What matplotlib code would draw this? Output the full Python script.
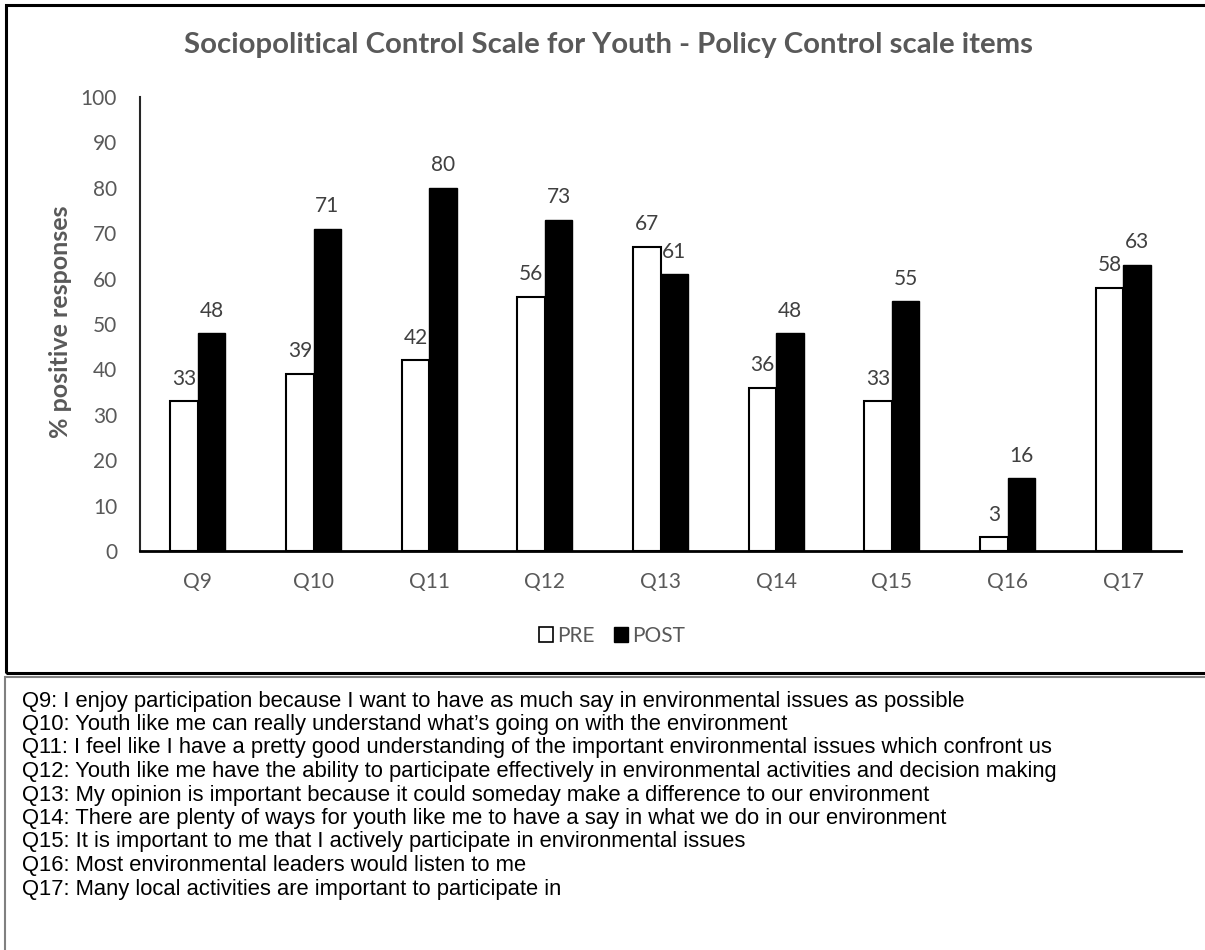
import matplotlib
matplotlib.use("Agg")
import matplotlib.pyplot as plt
from matplotlib.patches import Rectangle, Patch
import numpy as np

categories = ["Q9", "Q10", "Q11", "Q12", "Q13", "Q14", "Q15", "Q16", "Q17"]
pre_values = [33, 39, 42, 56, 67, 36, 33, 3, 58]
post_values = [48, 71, 80, 73, 61, 48, 55, 16, 63]
y_ticks = [0, 10, 20, 30, 40, 50, 60, 70, 80, 90, 100]
title = "Sociopolitical Control Scale for Youth - Policy Control scale items"
y_label = "% positive responses"
series_names = ["PRE", "POST"]
notes = [
    "Q9: I enjoy participation because I want to have as much say in environmental issues as possible",
    "Q10: Youth like me can really understand what\u2019s going on with the environment",
    "Q11: I feel like I have a pretty good understanding of the important environmental issues which confront us",
    "Q12: Youth like me have the ability to participate effectively in environmental activities and decision making",
    "Q13: My opinion is important because it could someday make a difference to our environment",
    "Q14: There are plenty of ways for youth like me to have a say in what we do in our environment",
    "Q15: It is important to me that I actively participate in environmental issues",
    "Q16: Most environmental leaders would listen to me",
    "Q17: Many local activities are important to participate in",
]

W, H = 1205, 950
fig = plt.figure(figsize=(W / 100, H / 100), dpi=100)
chart_font = "Lato"
gray = "#595959"
lab = "#404040"
tick_fs = 15

# chart frame
fig.patches.append(Rectangle((6 / W, 1 - 673 / H), 1.2, (673 - 5) / H, transform=fig.transFigure,
                             fill=False, edgecolor="black", linewidth=2.2, zorder=5))
# notes box
fig.patches.append(Rectangle((5 / W, -0.1), 1.2, 0.1 + (H - 677) / H, transform=fig.transFigure,
                             fill=False, edgecolor="#808080", linewidth=1.5, zorder=5))

ax = fig.add_axes([140 / W, 1 - 551 / H, (1181 - 140) / W, (551 - 97) / H])
x = np.arange(len(categories))
bw = 0.237
b1 = ax.bar(x - bw / 2, pre_values, bw, color="white", edgecolor="black", linewidth=1.5)
b2 = ax.bar(x + bw / 2, post_values, bw, color="black", edgecolor="black", linewidth=1.0)
for bars, vals in ((b1, pre_values), (b2, post_values)):
    for r, v in zip(bars, vals):
        ax.annotate(str(v), (r.get_x() + r.get_width() / 2, v), xytext=(0, 9), textcoords="offset points",
                    ha="center", va="bottom", fontsize=tick_fs, color=lab, family=chart_font)

ax.set_xlim(-0.5, len(categories) - 0.5)
ax.set_ylim(0, 100)
ax.set_yticks(y_ticks)
ax.set_xticks(x)
ax.set_xticklabels(categories)
ax.tick_params(axis="both", length=0, labelsize=tick_fs, labelcolor=gray)
ax.tick_params(axis="y", pad=16.5)
ax.tick_params(axis="x", pad=15)
for t in ax.get_xticklabels() + ax.get_yticklabels():
    t.set_family(chart_font)
for s in ("top", "right"):
    ax.spines[s].set_visible(False)
ax.spines["left"].set_color("#262626")
ax.spines["left"].set_linewidth(1.5)
ax.spines["bottom"].set_color("black")
ax.spines["bottom"].set_linewidth(2)

fig.text(61 / W, 1 - 322 / H, y_label, rotation=90, ha="center", va="center",
         fontsize=18, fontweight="bold", color=gray, family=chart_font)
fig.text(609 / W, 1 - 45 / H, title, ha="center", va="center",
         fontsize=21.2, fontweight="bold", color=gray, family=chart_font)

handles = [Patch(facecolor="white", edgecolor="black", linewidth=1.2),
           Patch(facecolor="black", edgecolor="black")]
leg = fig.legend(handles, series_names, loc="center", bbox_to_anchor=(612 / W, 1 - 636 / H),
                 ncol=2, frameon=False, handlelength=0.7, handleheight=0.7, handletextpad=0.2,
                 columnspacing=0.9, prop={"family": chart_font, "size": tick_fs})
for t in leg.get_texts():
    t.set_color(gray)

for i, line in enumerate(notes):
    fig.text(22 / W, 1 - (701 + i * 23.5) / H, line, ha="left", va="center",
             fontsize=15.8, color="black", family="Liberation Sans")

fig.savefig("out.png", dpi=100)
